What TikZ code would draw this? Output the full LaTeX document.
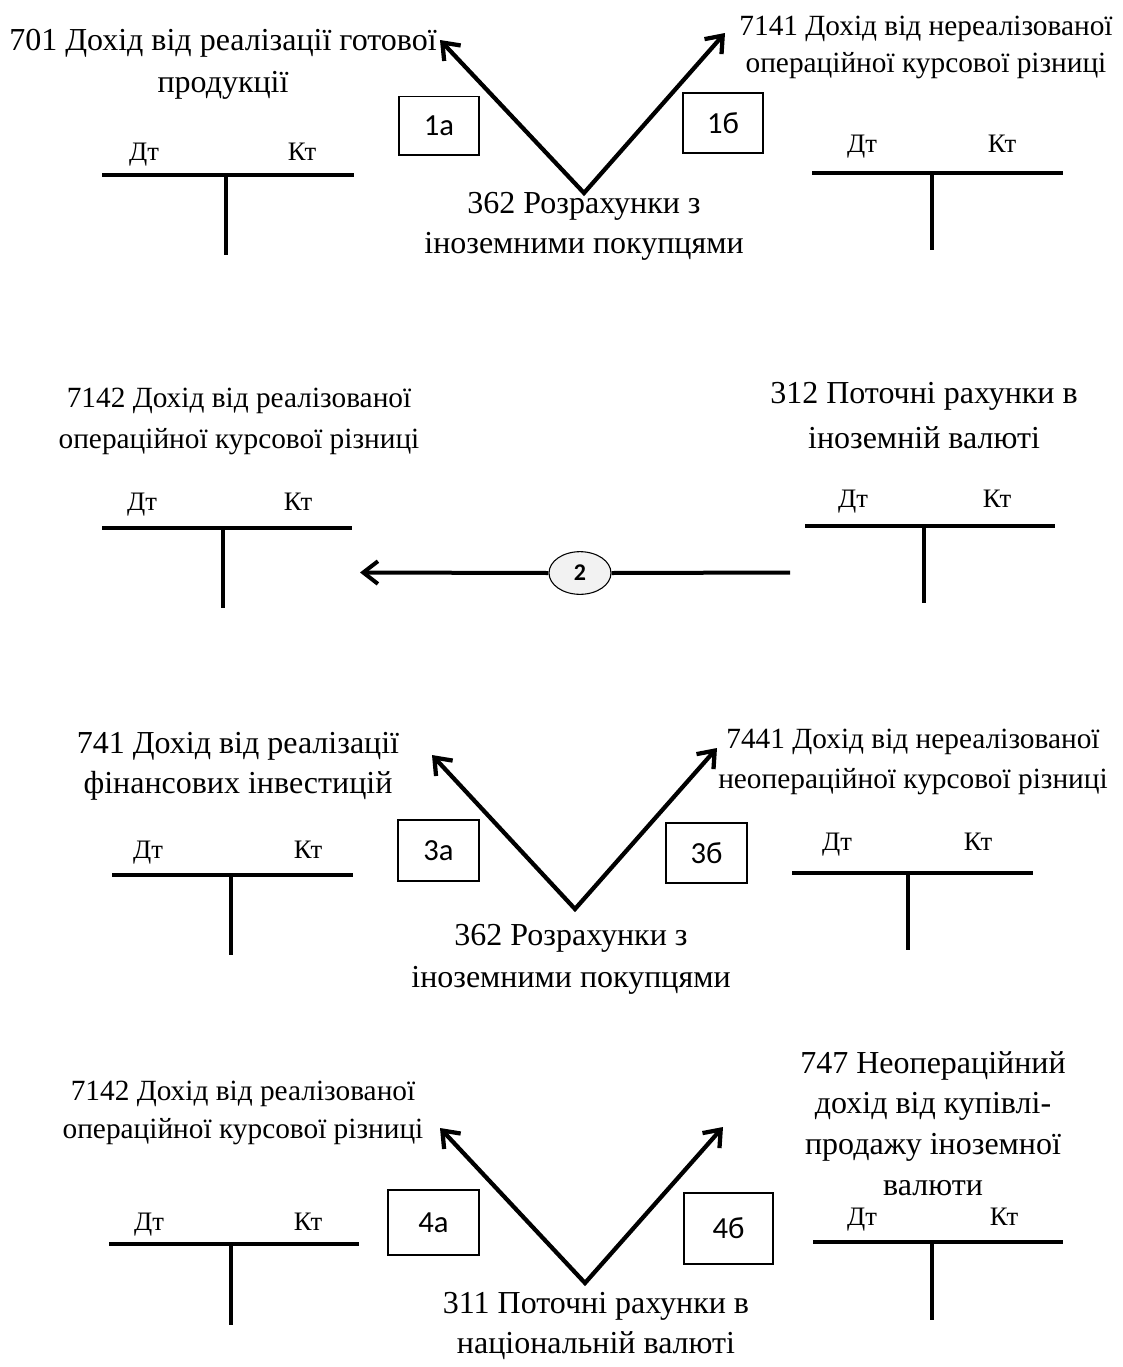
\documentclass[tikz,border=0pt]{standalone}
\usepackage{fontspec}
\setmainfont{Liberation Serif}
\newfontfamily\boxfont{Carlito}
\usetikzlibrary{arrows.meta,shapes.geometric}

% T-shaped ledger account: name, left x, right x, bar y, stem x, stem bottom, Dt x, Kt x, heading baseline
\newcommand\tacc[9]{%
  \draw[acct] (#2,#4) -- (#3,#4);
  \draw[acct] (#5,#4) -- (#5,#6);
  \node[side] (#1dt) at (#7,#9) {Дт};
  \node[side] (#1kt) at (#8,#9) {Кт};
}

\begin{document}
\begin{tikzpicture}[x=0.75pt,y=-0.75pt,
  % multi-line labels are placed by the baseline of their last line
  lbl/.style 2 args={font=\fontsize{#1}{#2}\selectfont, align=center, inner sep=0pt, anchor=base},
  side/.style={font=\fontsize{20}{24}\selectfont, inner sep=0pt, anchor=base},
  acct/.style={line width=3pt},
  flow/.style={line width=3.2pt, line join=miter,
    {Straight Barb[length=11pt,width=17pt]}-{Straight Barb[length=11pt,width=17pt]}},
  flowone/.style={line width=3pt, -{Straight Barb[length=11pt,width=17pt]}},
  opbox/.style={draw, line width=1pt, inner sep=0pt,
    font=\boxfont\fontsize{23}{26}\selectfont},
  opoval/.style={ellipse, draw, line width=0.8pt, fill=black!5, inner sep=0pt,
    minimum width=46.5pt, minimum height=32pt,
    font=\boxfont\bfseries\fontsize{18}{20}\selectfont}
]
\useasboundingbox (0,0) rectangle (1122,1367);

% ---------- operation 1 ----------
\node[lbl={24}{31.5}] (acc701) at (223,92) {701 Дохід від реалізації готової\\продукції};
\node[lbl={22}{27.75}] (acc7141) at (926,72) {7141 Дохід від нереалізованої\\операційної курсової різниці};
\node[lbl={24}{30}] (acc362a) at (584,253) {362 Розрахунки з\\іноземними покупцями};
\tacc{ta}{102}{354}{175}{226}{255}{144}{302}{160}
\tacc{tb}{812}{1063}{173}{932}{250}{862}{1002}{152}
\node[opbox, minimum width=60pt, minimum height=44pt] (op1a) at (439,125.5) {1а};
\node[opbox, minimum width=60pt, minimum height=45pt] (op1b) at (723,123) {1б};
\coordinate (v1) at (584,193);
\coordinate (t1a) at (440,40);
\coordinate (t1b) at (725,33);
\draw[flow] (t1a) -- (v1) -- (t1b);

% ---------- operation 2 ----------
\node[lbl={22}{30.75}] (acc7142a) at (239,448) {7142 Дохід від реалізованої\\операційної курсової різниці};
\node[lbl={24}{33.75}] (acc312) at (924,448) {312 Поточні рахунки в\\іноземній валюті};
\tacc{tc}{102}{352}{528}{223}{608}{142}{298}{510}
\tacc{td}{805}{1055}{526}{924}{603}{853}{997}{507}
\node[opoval] (op2) at (580,573) {2};
\coordinate (s2) at (790,572.5);
\coordinate (t2) at (360,572.5);
\draw[line width=3pt] (s2) -- (op2.east);
\draw[flowone] (op2.west) -- (t2);

% ---------- operation 3 ----------
\node[lbl={24}{30}] (acc741) at (238,793) {741 Дохід від реалізації\\фінансових інвестицій};
\node[lbl={22}{30}] (acc7441) at (913,788) {7441 Дохід від нереалізованої\\неопераційної курсової різниці};
\node[lbl={24}{31.5}] (acc362b) at (571,987) {362 Розрахунки з\\іноземними покупцями};
\tacc{te}{112}{353}{875}{231}{955}{148}{308}{858}
\tacc{tf}{792}{1033}{873}{908}{950}{837}{978}{850}
\node[opbox, minimum width=60.75pt, minimum height=45.75pt] (op3a) at (438.5,850.5) {3а};
\node[opbox, minimum width=60.75pt, minimum height=45pt] (op3b) at (706.5,853) {3б};
\coordinate (v3) at (575,909);
\coordinate (t3a) at (432,755);
\coordinate (t3b) at (717,748);
\draw[flow] (t3a) -- (v3) -- (t3b);

% ---------- operation 4 ----------
\node[lbl={22}{28.5}] (acc7142b) at (243,1138) {7142 Дохід від реалізованої\\операційної курсової різниці};
\node[lbl={24}{30.5}] (acc747) at (933,1195) {747 Неопераційний\\дохід від купівлі-\\продажу іноземної\\валюти};
\node[lbl={24}{30}] (acc311) at (596,1353) {311 Поточні рахунки в\\національній валюті};
\tacc{tg}{109}{359}{1244}{231}{1325}{149}{308}{1230}
\tacc{th}{813}{1063}{1242}{932}{1320}{862}{1004}{1225}
\node[opbox, minimum width=68.25pt, minimum height=48.75pt] (op4a) at (433.5,1222.5) {4а};
\node[opbox, minimum width=66.75pt, minimum height=53.25pt] (op4b) at (728.5,1228.5) {4б};
\coordinate (v4) at (585,1283);
\coordinate (t4a) at (440,1128);
\coordinate (t4b) at (723,1127);
\draw[flow] (t4a) -- (v4) -- (t4b);
\end{tikzpicture}
\end{document}
